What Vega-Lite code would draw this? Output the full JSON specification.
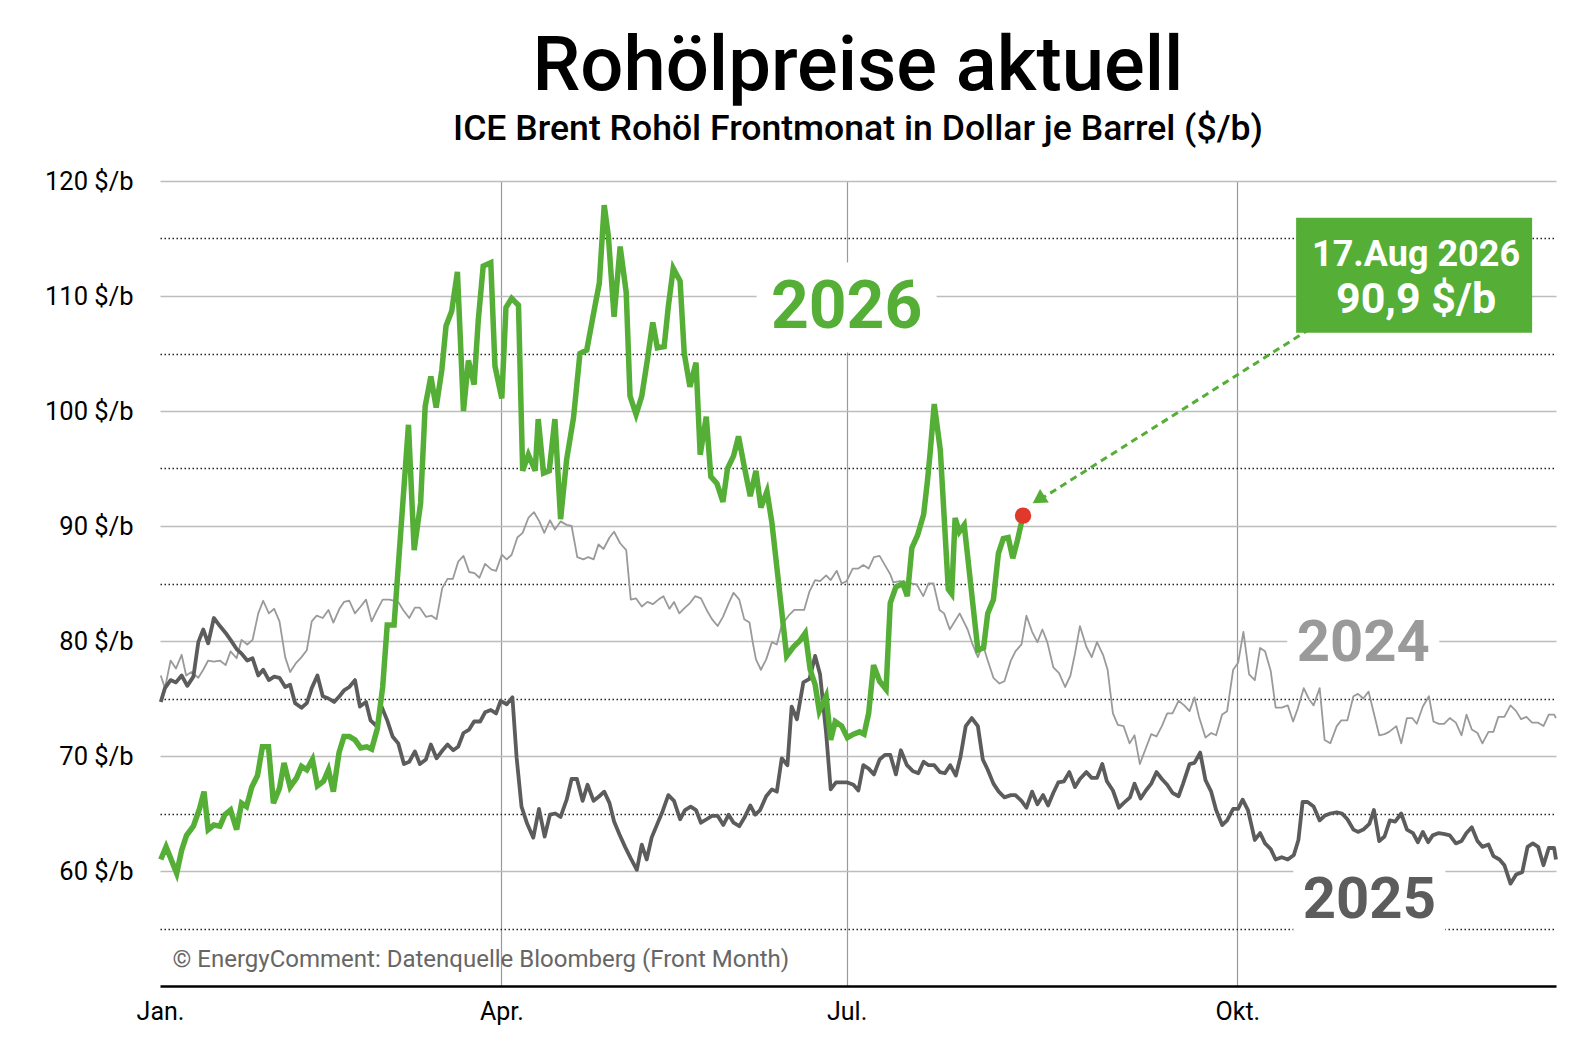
{
  "$schema": "https://vega.github.io/schema/vega-lite/v6.json",
  "width": 1396,
  "height": 805,
  "autosize": {"type": "none"},
  "padding": {"left": 160, "top": 181, "right": 26, "bottom": 70},
  "background": "white",
  "title": {
    "text": "Rohölpreise aktuell",
    "subtitle": "ICE Brent Rohöl Frontmonat in Dollar je Barrel ($/b)",
    "anchor": "middle",
    "frame": "group",
    "font": "Roboto",
    "fontSize": 76,
    "fontWeight": 500,
    "color": "#000",
    "subtitleFont": "Roboto",
    "subtitleFontSize": 35.6,
    "subtitleFontWeight": 500,
    "subtitleColor": "#000",
    "subtitlePadding": 6,
    "offset": 20
  },
  "datasets": {
    "p2024": [
      {"tag":0.2,"preis":77.0},{"tag":1.3,"preis":75.9},{"tag":2.8,"preis":78.3},{"tag":4.2,"preis":77.6},{"tag":5.7,"preis":78.8},{"tag":6.9,"preis":77.0},{"tag":8.3,"preis":77.3},{"tag":10.1,"preis":76.8},{"tag":11.4,"preis":77.5},{"tag":12.7,"preis":78.3},{"tag":14.2,"preis":78.2},{"tag":15.8,"preis":78.3},{"tag":17.3,"preis":77.9},{"tag":18.6,"preis":79.1},{"tag":20.2,"preis":78.5},{"tag":21.5,"preis":80.1},{"tag":23.0,"preis":79.7},{"tag":24.4,"preis":80.1},{"tag":25.9,"preis":82.4},{"tag":27.2,"preis":83.5},{"tag":28.7,"preis":82.4},{"tag":30.1,"preis":82.8},{"tag":31.5,"preis":81.7},{"tag":33.0,"preis":78.6},{"tag":34.3,"preis":77.3},{"tag":35.9,"preis":78.1},{"tag":37.3,"preis":78.6},{"tag":38.7,"preis":79.2},{"tag":40.0,"preis":81.7},{"tag":41.3,"preis":82.2},{"tag":42.9,"preis":82.0},{"tag":44.4,"preis":82.7},{"tag":45.7,"preis":81.6},{"tag":47.3,"preis":82.8},{"tag":48.5,"preis":83.4},{"tag":49.9,"preis":83.5},{"tag":51.4,"preis":82.4},{"tag":52.9,"preis":83.0},{"tag":54.3,"preis":83.6},{"tag":55.8,"preis":81.7},{"tag":57.1,"preis":82.6},{"tag":58.7,"preis":83.6},{"tag":60.5,"preis":83.6},{"tag":62.8,"preis":83.4},{"tag":64.1,"preis":82.7},{"tag":65.7,"preis":82.0},{"tag":67.2,"preis":82.9},{"tag":68.5,"preis":82.9},{"tag":70.1,"preis":82.1},{"tag":71.6,"preis":82.2},{"tag":72.9,"preis":81.9},{"tag":74.4,"preis":84.6},{"tag":75.8,"preis":85.4},{"tag":77.2,"preis":85.4},{"tag":78.6,"preis":86.9},{"tag":80.0,"preis":87.4},{"tag":81.5,"preis":86.0},{"tag":82.9,"preis":85.9},{"tag":84.2,"preis":85.5},{"tag":85.7,"preis":86.7},{"tag":87.4,"preis":86.2},{"tag":88.6,"preis":86.1},{"tag":90.1,"preis":87.5},{"tag":91.4,"preis":87.1},{"tag":92.7,"preis":87.5},{"tag":94.2,"preis":89.0},{"tag":95.6,"preis":89.4},{"tag":97.1,"preis":90.7},{"tag":98.6,"preis":91.2},{"tag":100.0,"preis":90.4},{"tag":101.3,"preis":89.4},{"tag":102.8,"preis":90.5},{"tag":104.1,"preis":89.7},{"tag":105.6,"preis":90.4},{"tag":107.2,"preis":90.1},{"tag":108.5,"preis":90.0},{"tag":110.0,"preis":87.3},{"tag":111.6,"preis":87.1},{"tag":112.9,"preis":87.3},{"tag":114.3,"preis":87.1},{"tag":115.6,"preis":88.4},{"tag":116.9,"preis":88.0},{"tag":118.5,"preis":89.0},{"tag":119.7,"preis":89.5},{"tag":121.3,"preis":88.5},{"tag":122.9,"preis":87.9},{"tag":124.1,"preis":83.6},{"tag":125.5,"preis":83.7},{"tag":127.0,"preis":83.0},{"tag":128.5,"preis":83.4},{"tag":129.9,"preis":83.2},{"tag":131.4,"preis":83.6},{"tag":132.7,"preis":83.9},{"tag":134.3,"preis":82.8},{"tag":135.5,"preis":83.4},{"tag":136.9,"preis":82.4},{"tag":138.4,"preis":82.9},{"tag":139.7,"preis":83.3},{"tag":141.1,"preis":83.9},{"tag":142.6,"preis":83.7},{"tag":144.1,"preis":82.7},{"tag":145.5,"preis":81.9},{"tag":147.0,"preis":81.3},{"tag":148.4,"preis":82.1},{"tag":149.8,"preis":83.2},{"tag":151.2,"preis":84.2},{"tag":152.7,"preis":83.6},{"tag":154.0,"preis":81.9},{"tag":155.4,"preis":81.6},{"tag":156.3,"preis":79.8},{"tag":157.1,"preis":78.4},{"tag":158.4,"preis":77.5},{"tag":159.8,"preis":78.4},{"tag":161.3,"preis":79.9},{"tag":162.6,"preis":79.7},{"tag":163.9,"preis":81.4},{"tag":165.7,"preis":82.2},{"tag":167.2,"preis":82.7},{"tag":168.6,"preis":82.7},{"tag":169.8,"preis":82.7},{"tag":171.2,"preis":84.3},{"tag":172.7,"preis":85.3},{"tag":174.0,"preis":85.2},{"tag":175.6,"preis":85.7},{"tag":176.8,"preis":85.3},{"tag":178.4,"preis":86.1},{"tag":179.7,"preis":85.0},{"tag":181.0,"preis":85.2},{"tag":182.6,"preis":86.3},{"tag":184.1,"preis":86.3},{"tag":185.4,"preis":86.6},{"tag":186.8,"preis":86.3},{"tag":188.2,"preis":87.3},{"tag":189.7,"preis":87.4},{"tag":191.1,"preis":86.6},{"tag":192.5,"preis":85.8},{"tag":193.3,"preis":85.1},{"tag":195.1,"preis":85.2},{"tag":196.9,"preis":85.1},{"tag":199.5,"preis":84.9},{"tag":201.2,"preis":83.9},{"tag":202.6,"preis":85.0},{"tag":203.9,"preis":85.0},{"tag":205.5,"preis":82.7},{"tag":206.7,"preis":82.4},{"tag":208.2,"preis":81.0},{"tag":210.8,"preis":82.4},{"tag":212.9,"preis":81.0},{"tag":214.2,"preis":79.7},{"tag":215.6,"preis":78.6},{"tag":216.9,"preis":79.7},{"tag":218.2,"preis":78.3},{"tag":219.7,"preis":76.8},{"tag":221.3,"preis":76.3},{"tag":222.6,"preis":76.5},{"tag":224.3,"preis":78.3},{"tag":225.5,"preis":79.1},{"tag":227.1,"preis":79.7},{"tag":228.4,"preis":82.2},{"tag":229.9,"preis":80.8},{"tag":231.3,"preis":79.9},{"tag":232.6,"preis":81.0},{"tag":233.9,"preis":79.9},{"tag":235.5,"preis":77.7},{"tag":237.0,"preis":77.2},{"tag":238.6,"preis":76.0},{"tag":240.0,"preis":77.0},{"tag":241.2,"preis":78.9},{"tag":242.5,"preis":81.3},{"tag":244.2,"preis":79.5},{"tag":245.6,"preis":78.6},{"tag":247.0,"preis":79.9},{"tag":248.6,"preis":78.8},{"tag":249.8,"preis":77.5},{"tag":251.2,"preis":73.7},{"tag":252.5,"preis":72.7},{"tag":254.0,"preis":72.6},{"tag":255.6,"preis":71.1},{"tag":256.9,"preis":71.8},{"tag":258.3,"preis":69.3},{"tag":259.9,"preis":70.7},{"tag":261.3,"preis":71.9},{"tag":262.7,"preis":71.7},{"tag":264.1,"preis":72.6},{"tag":265.5,"preis":73.7},{"tag":266.9,"preis":73.7},{"tag":268.5,"preis":74.8},{"tag":270.0,"preis":74.4},{"tag":271.4,"preis":73.9},{"tag":272.7,"preis":75.1},{"tag":273.9,"preis":73.4},{"tag":275.6,"preis":71.6},{"tag":277.1,"preis":72.0},{"tag":278.4,"preis":71.8},{"tag":280.0,"preis":73.6},{"tag":281.3,"preis":73.9},{"tag":282.9,"preis":77.5},{"tag":284.2,"preis":78.1},{"tag":285.6,"preis":80.8},{"tag":287.1,"preis":77.1},{"tag":288.6,"preis":76.6},{"tag":290.0,"preis":79.4},{"tag":291.3,"preis":79.1},{"tag":292.8,"preis":77.4},{"tag":294.1,"preis":74.2},{"tag":295.7,"preis":74.2},{"tag":297.3,"preis":74.4},{"tag":298.7,"preis":73.0},{"tag":299.9,"preis":74.1},{"tag":301.5,"preis":75.9},{"tag":302.8,"preis":75.0},{"tag":304.1,"preis":74.4},{"tag":305.7,"preis":75.9},{"tag":307.0,"preis":71.4},{"tag":308.5,"preis":71.1},{"tag":310.2,"preis":72.6},{"tag":311.4,"preis":73.1},{"tag":313.0,"preis":73.1},{"tag":314.6,"preis":75.2},{"tag":315.8,"preis":75.4},{"tag":317.2,"preis":75.0},{"tag":318.6,"preis":75.6},{"tag":320.0,"preis":73.7},{"tag":321.4,"preis":71.8},{"tag":322.8,"preis":71.9},{"tag":324.0,"preis":72.1},{"tag":325.9,"preis":72.6},{"tag":327.2,"preis":71.1},{"tag":328.7,"preis":73.3},{"tag":330.1,"preis":73.3},{"tag":331.3,"preis":72.8},{"tag":332.9,"preis":74.3},{"tag":334.5,"preis":75.2},{"tag":335.7,"preis":73.0},{"tag":337.1,"preis":72.8},{"tag":338.5,"preis":72.8},{"tag":340.0,"preis":73.3},{"tag":341.6,"preis":72.9},{"tag":343.1,"preis":71.8},{"tag":344.4,"preis":73.6},{"tag":345.8,"preis":72.3},{"tag":347.3,"preis":72.0},{"tag":348.6,"preis":71.1},{"tag":350.2,"preis":72.1},{"tag":351.5,"preis":72.1},{"tag":352.8,"preis":73.4},{"tag":354.4,"preis":73.4},{"tag":356.0,"preis":74.4},{"tag":357.5,"preis":73.9},{"tag":358.8,"preis":73.2},{"tag":360.2,"preis":73.4},{"tag":361.7,"preis":72.9},{"tag":363.3,"preis":72.9},{"tag":364.7,"preis":72.6},{"tag":366.1,"preis":73.6},{"tag":367.5,"preis":73.6},{"tag":368.0,"preis":73.3}
    ],
    "p2025": [
      {"tag":0.2,"preis":74.7},{"tag":1.3,"preis":75.9},{"tag":2.8,"preis":76.6},{"tag":4.2,"preis":76.4},{"tag":5.7,"preis":77.0},{"tag":7.2,"preis":76.1},{"tag":8.8,"preis":76.9},{"tag":10.1,"preis":79.9},{"tag":11.4,"preis":81.0},{"tag":12.7,"preis":79.8},{"tag":14.2,"preis":82.0},{"tag":15.8,"preis":81.3},{"tag":17.3,"preis":80.7},{"tag":18.6,"preis":80.1},{"tag":20.2,"preis":79.3},{"tag":21.5,"preis":78.9},{"tag":23.0,"preis":78.3},{"tag":24.4,"preis":78.5},{"tag":25.9,"preis":77.0},{"tag":27.2,"preis":77.5},{"tag":28.7,"preis":76.6},{"tag":30.1,"preis":76.9},{"tag":31.5,"preis":76.8},{"tag":33.0,"preis":76.0},{"tag":34.3,"preis":76.2},{"tag":35.6,"preis":74.6},{"tag":37.3,"preis":74.2},{"tag":38.7,"preis":74.6},{"tag":40.0,"preis":75.9},{"tag":41.5,"preis":77.0},{"tag":42.9,"preis":75.2},{"tag":44.4,"preis":75.0},{"tag":45.9,"preis":74.7},{"tag":47.3,"preis":75.2},{"tag":48.5,"preis":75.7},{"tag":49.9,"preis":76.0},{"tag":51.4,"preis":76.6},{"tag":52.7,"preis":74.3},{"tag":54.3,"preis":74.7},{"tag":55.5,"preis":73.1},{"tag":57.1,"preis":72.6},{"tag":58.4,"preis":74.3},{"tag":59.9,"preis":73.1},{"tag":61.3,"preis":71.7},{"tag":62.8,"preis":71.1},{"tag":64.3,"preis":69.3},{"tag":65.7,"preis":69.5},{"tag":67.2,"preis":70.4},{"tag":68.5,"preis":69.3},{"tag":70.1,"preis":69.7},{"tag":71.4,"preis":71.0},{"tag":72.9,"preis":69.8},{"tag":74.5,"preis":70.5},{"tag":75.8,"preis":71.0},{"tag":77.3,"preis":70.5},{"tag":78.6,"preis":70.8},{"tag":80.0,"preis":72.0},{"tag":81.5,"preis":72.3},{"tag":82.8,"preis":73.0},{"tag":84.4,"preis":73.0},{"tag":85.7,"preis":73.8},{"tag":87.2,"preis":74.0},{"tag":88.6,"preis":73.7},{"tag":89.8,"preis":74.8},{"tag":91.4,"preis":74.5},{"tag":92.9,"preis":75.1},{"tag":94.0,"preis":69.9},{"tag":95.3,"preis":65.6},{"tag":96.8,"preis":64.1},{"tag":98.4,"preis":62.9},{"tag":99.9,"preis":65.4},{"tag":101.4,"preis":63.0},{"tag":102.8,"preis":64.9},{"tag":104.2,"preis":65.0},{"tag":105.6,"preis":64.7},{"tag":107.2,"preis":66.2},{"tag":108.5,"preis":68.0},{"tag":109.9,"preis":68.0},{"tag":111.4,"preis":66.1},{"tag":112.7,"preis":67.5},{"tag":114.3,"preis":66.1},{"tag":115.8,"preis":66.5},{"tag":117.1,"preis":66.9},{"tag":118.5,"preis":65.9},{"tag":119.7,"preis":64.3},{"tag":121.1,"preis":63.2},{"tag":122.6,"preis":62.1},{"tag":124.1,"preis":61.1},{"tag":125.7,"preis":60.1},{"tag":127.0,"preis":62.3},{"tag":128.3,"preis":61.0},{"tag":129.6,"preis":62.9},{"tag":131.1,"preis":64.1},{"tag":132.5,"preis":65.2},{"tag":134.0,"preis":66.6},{"tag":135.5,"preis":66.1},{"tag":137.1,"preis":64.5},{"tag":138.4,"preis":65.3},{"tag":139.9,"preis":65.6},{"tag":141.3,"preis":65.3},{"tag":142.6,"preis":64.2},{"tag":144.1,"preis":64.5},{"tag":145.5,"preis":64.8},{"tag":147.0,"preis":64.8},{"tag":148.5,"preis":64.0},{"tag":149.9,"preis":64.9},{"tag":151.2,"preis":64.2},{"tag":152.7,"preis":63.9},{"tag":154.0,"preis":64.6},{"tag":155.6,"preis":65.7},{"tag":156.9,"preis":64.9},{"tag":158.2,"preis":65.3},{"tag":159.8,"preis":66.5},{"tag":161.3,"preis":67.1},{"tag":162.6,"preis":66.9},{"tag":163.9,"preis":69.8},{"tag":165.4,"preis":69.2},{"tag":166.5,"preis":74.3},{"tag":167.9,"preis":73.2},{"tag":169.6,"preis":76.4},{"tag":171.2,"preis":76.7},{"tag":172.7,"preis":78.7},{"tag":174.0,"preis":77.1},{"tag":175.6,"preis":72.0},{"tag":176.8,"preis":67.1},{"tag":178.2,"preis":67.7},{"tag":179.7,"preis":67.7},{"tag":181.2,"preis":67.7},{"tag":182.8,"preis":67.5},{"tag":184.1,"preis":67.0},{"tag":185.4,"preis":69.2},{"tag":186.8,"preis":68.9},{"tag":188.2,"preis":68.4},{"tag":189.7,"preis":69.7},{"tag":191.1,"preis":70.1},{"tag":192.5,"preis":70.1},{"tag":194.0,"preis":68.4},{"tag":195.3,"preis":70.5},{"tag":196.9,"preis":69.2},{"tag":198.4,"preis":68.7},{"tag":199.9,"preis":68.5},{"tag":201.3,"preis":69.5},{"tag":202.6,"preis":69.2},{"tag":204.1,"preis":69.2},{"tag":205.6,"preis":68.6},{"tag":206.9,"preis":68.5},{"tag":208.3,"preis":69.2},{"tag":209.8,"preis":68.3},{"tag":211.0,"preis":69.9},{"tag":212.4,"preis":72.6},{"tag":214.0,"preis":73.3},{"tag":215.6,"preis":72.6},{"tag":216.9,"preis":69.7},{"tag":218.2,"preis":68.8},{"tag":219.7,"preis":67.6},{"tag":221.1,"preis":66.9},{"tag":222.6,"preis":66.4},{"tag":224.3,"preis":66.6},{"tag":225.5,"preis":66.6},{"tag":227.1,"preis":66.1},{"tag":228.4,"preis":65.5},{"tag":229.9,"preis":66.9},{"tag":231.3,"preis":65.8},{"tag":232.8,"preis":66.6},{"tag":234.1,"preis":65.7},{"tag":235.5,"preis":66.8},{"tag":236.8,"preis":67.7},{"tag":238.3,"preis":67.8},{"tag":239.7,"preis":68.6},{"tag":241.2,"preis":67.3},{"tag":242.5,"preis":68.0},{"tag":244.2,"preis":68.6},{"tag":245.6,"preis":68.1},{"tag":247.0,"preis":68.1},{"tag":248.4,"preis":69.3},{"tag":249.6,"preis":67.8},{"tag":251.2,"preis":67.0},{"tag":252.8,"preis":65.5},{"tag":254.0,"preis":65.9},{"tag":255.7,"preis":66.4},{"tag":256.9,"preis":67.6},{"tag":258.5,"preis":66.3},{"tag":259.9,"preis":67.0},{"tag":261.3,"preis":67.6},{"tag":262.7,"preis":68.6},{"tag":264.1,"preis":68.0},{"tag":265.5,"preis":67.5},{"tag":266.9,"preis":66.8},{"tag":268.5,"preis":66.5},{"tag":269.7,"preis":67.6},{"tag":271.4,"preis":69.3},{"tag":272.7,"preis":69.4},{"tag":274.2,"preis":70.3},{"tag":275.6,"preis":67.9},{"tag":277.1,"preis":66.9},{"tag":278.4,"preis":65.3},{"tag":280.0,"preis":64.0},{"tag":281.3,"preis":64.4},{"tag":282.9,"preis":65.4},{"tag":284.2,"preis":65.4},{"tag":285.4,"preis":66.2},{"tag":286.8,"preis":65.3},{"tag":288.6,"preis":62.7},{"tag":290.0,"preis":63.3},{"tag":291.3,"preis":62.4},{"tag":292.8,"preis":61.9},{"tag":294.1,"preis":61.0},{"tag":295.7,"preis":61.2},{"tag":297.3,"preis":61.0},{"tag":298.9,"preis":61.4},{"tag":300.1,"preis":62.7},{"tag":301.2,"preis":66.0},{"tag":302.5,"preis":66.0},{"tag":304.1,"preis":65.6},{"tag":305.7,"preis":64.4},{"tag":307.0,"preis":64.8},{"tag":308.5,"preis":65.0},{"tag":310.2,"preis":65.1},{"tag":311.6,"preis":65.0},{"tag":313.0,"preis":64.5},{"tag":314.6,"preis":63.6},{"tag":315.8,"preis":63.4},{"tag":317.2,"preis":63.6},{"tag":318.8,"preis":64.1},{"tag":320.0,"preis":65.3},{"tag":321.4,"preis":62.6},{"tag":322.8,"preis":63.0},{"tag":324.2,"preis":64.4},{"tag":325.6,"preis":64.3},{"tag":327.2,"preis":65.0},{"tag":328.7,"preis":63.6},{"tag":330.3,"preis":63.3},{"tag":331.6,"preis":62.5},{"tag":332.9,"preis":63.4},{"tag":334.3,"preis":62.5},{"tag":335.5,"preis":63.1},{"tag":337.1,"preis":63.3},{"tag":338.7,"preis":63.2},{"tag":340.0,"preis":63.1},{"tag":341.6,"preis":62.4},{"tag":343.1,"preis":62.6},{"tag":344.4,"preis":63.3},{"tag":345.8,"preis":63.8},{"tag":347.3,"preis":62.6},{"tag":348.6,"preis":62.1},{"tag":350.2,"preis":62.3},{"tag":351.5,"preis":61.3},{"tag":353.1,"preis":61.0},{"tag":354.4,"preis":60.5},{"tag":356.0,"preis":58.9},{"tag":357.5,"preis":59.7},{"tag":359.1,"preis":59.9},{"tag":360.5,"preis":62.1},{"tag":361.9,"preis":62.4},{"tag":363.3,"preis":62.1},{"tag":364.7,"preis":60.5},{"tag":366.1,"preis":62.0},{"tag":367.5,"preis":62.0},{"tag":368.0,"preis":61.0}
    ],
    "p2026": [
      {"tag":0.2,"preis":61.0},{"tag":1.6,"preis":62.1},{"tag":4.4,"preis":59.8},{"tag":5.7,"preis":61.8},{"tag":7.0,"preis":63.1},{"tag":8.8,"preis":63.9},{"tag":10.4,"preis":65.4},{"tag":11.6,"preis":66.9},{"tag":12.7,"preis":63.6},{"tag":14.2,"preis":64.0},{"tag":15.8,"preis":63.9},{"tag":17.1,"preis":64.9},{"tag":18.6,"preis":65.3},{"tag":20.2,"preis":63.6},{"tag":21.5,"preis":65.9},{"tag":22.8,"preis":65.6},{"tag":24.2,"preis":67.3},{"tag":25.7,"preis":68.3},{"tag":27.0,"preis":70.8},{"tag":28.6,"preis":70.8},{"tag":29.9,"preis":65.9},{"tag":31.5,"preis":67.2},{"tag":32.7,"preis":69.4},{"tag":34.3,"preis":67.3},{"tag":36.0,"preis":68.1},{"tag":37.3,"preis":69.1},{"tag":38.7,"preis":68.8},{"tag":40.2,"preis":69.7},{"tag":41.5,"preis":67.4},{"tag":43.1,"preis":67.8},{"tag":44.4,"preis":68.8},{"tag":45.7,"preis":66.9},{"tag":47.2,"preis":70.3},{"tag":48.5,"preis":71.7},{"tag":49.9,"preis":71.7},{"tag":51.4,"preis":71.4},{"tag":52.9,"preis":70.7},{"tag":54.5,"preis":70.8},{"tag":55.8,"preis":70.6},{"tag":57.3,"preis":72.4},{"tag":58.7,"preis":76.0},{"tag":59.9,"preis":81.4},{"tag":61.7,"preis":81.4},{"tag":65.5,"preis":98.8},{"tag":67.0,"preis":87.9},{"tag":68.7,"preis":92.0},{"tag":69.9,"preis":100.4},{"tag":71.4,"preis":103.0},{"tag":72.8,"preis":100.3},{"tag":74.3,"preis":103.6},{"tag":75.4,"preis":107.4},{"tag":76.9,"preis":108.7},{"tag":78.4,"preis":112.1},{"tag":80.0,"preis":100.0},{"tag":81.3,"preis":104.4},{"tag":82.8,"preis":102.3},{"tag":83.9,"preis":107.9},{"tag":85.2,"preis":112.6},{"tag":87.2,"preis":112.9},{"tag":88.3,"preis":103.9},{"tag":90.1,"preis":101.1},{"tag":91.2,"preis":109.0},{"tag":92.7,"preis":109.8},{"tag":94.5,"preis":109.2},{"tag":95.6,"preis":94.8},{"tag":97.1,"preis":96.2},{"tag":98.9,"preis":94.8},{"tag":99.7,"preis":99.3},{"tag":101.1,"preis":94.6},{"tag":102.6,"preis":94.8},{"tag":104.1,"preis":99.3},{"tag":105.6,"preis":90.6},{"tag":107.2,"preis":95.8},{"tag":109.0,"preis":99.4},{"tag":110.7,"preis":105.0},{"tag":112.5,"preis":105.3},{"tag":114.3,"preis":108.5},{"tag":115.8,"preis":111.1},{"tag":117.1,"preis":117.9},{"tag":118.2,"preis":115.2},{"tag":119.7,"preis":108.2},{"tag":121.3,"preis":114.3},{"tag":122.9,"preis":110.3},{"tag":123.9,"preis":101.3},{"tag":125.5,"preis":99.7},{"tag":127.0,"preis":101.3},{"tag":128.5,"preis":104.5},{"tag":129.9,"preis":107.7},{"tag":131.1,"preis":105.5},{"tag":132.9,"preis":105.6},{"tag":134.0,"preis":109.1},{"tag":135.3,"preis":112.4},{"tag":137.1,"preis":111.3},{"tag":138.2,"preis":105.0},{"tag":139.7,"preis":102.1},{"tag":141.3,"preis":104.2},{"tag":142.4,"preis":96.2},{"tag":144.0,"preis":99.5},{"tag":145.2,"preis":94.3},{"tag":146.8,"preis":93.7},{"tag":148.4,"preis":92.1},{"tag":149.6,"preis":95.0},{"tag":151.2,"preis":96.1},{"tag":152.5,"preis":97.8},{"tag":154.0,"preis":95.2},{"tag":155.6,"preis":92.6},{"tag":157.1,"preis":94.8},{"tag":158.4,"preis":91.6},{"tag":160.0,"preis":93.0},{"tag":161.3,"preis":90.3},{"tag":165.2,"preis":78.7},{"tag":167.0,"preis":79.5},{"tag":168.6,"preis":80.0},{"tag":170.1,"preis":80.7},{"tag":171.4,"preis":77.5},{"tag":172.7,"preis":76.2},{"tag":173.8,"preis":73.9},{"tag":175.6,"preis":75.2},{"tag":176.8,"preis":71.4},{"tag":178.0,"preis":73.0},{"tag":179.7,"preis":72.6},{"tag":181.2,"preis":71.6},{"tag":182.8,"preis":71.9},{"tag":184.4,"preis":72.1},{"tag":185.6,"preis":71.9},{"tag":186.8,"preis":73.7},{"tag":188.1,"preis":77.9},{"tag":189.7,"preis":76.5},{"tag":191.4,"preis":75.8},{"tag":192.5,"preis":83.3},{"tag":194.0,"preis":84.7},{"tag":195.8,"preis":85.0},{"tag":197.0,"preis":83.9},{"tag":198.2,"preis":88.1},{"tag":199.7,"preis":89.2},{"tag":201.3,"preis":91.0},{"tag":202.3,"preis":93.9},{"tag":203.0,"preis":96.3},{"tag":204.1,"preis":100.6},{"tag":205.7,"preis":96.6},{"tag":206.5,"preis":92.0},{"tag":207.8,"preis":84.5},{"tag":208.7,"preis":84.1},{"tag":209.6,"preis":90.7},{"tag":210.7,"preis":89.5},{"tag":212.0,"preis":90.1},{"tag":215.6,"preis":79.2},{"tag":217.1,"preis":79.4},{"tag":218.2,"preis":82.4},{"tag":219.7,"preis":83.6},{"tag":221.0,"preis":87.6},{"tag":222.3,"preis":88.9},{"tag":223.6,"preis":89.0},{"tag":224.8,"preis":87.2},{"tag":226.0,"preis":88.7},{"tag":227.5,"preis":90.9}
    ]
  },
  "encoding": {
    "x": {
      "field": "tag",
      "type": "quantitative",
      "scale": {"domain": [0, 368], "nice": false, "zero": false},
      "axis": {
        "title": null,
        "values": [0, 90, 181, 284],
        "labelExpr": "datum.value == 0 ? 'Jan.' : datum.value == 90 ? 'Apr.' : datum.value == 181 ? 'Jul.' : 'Okt.'",
        "grid": true,
        "gridColor": {"condition": {"test": "datum.value == 0", "value": "transparent"}, "value": "#9a9a9a"},
        "gridWidth": 1.2,
        "ticks": false,
        "domain": true,
        "domainColor": "#000",
        "domainWidth": 2.5,
        "labelFont": "Roboto",
        "labelFontSize": 25,
        "labelColor": "#000",
        "labelPadding": 13,
        "labelFlush": false,
        "labelOverlap": false
      }
    },
    "y": {
      "field": "preis",
      "type": "quantitative",
      "scale": {"domain": [50, 120], "nice": false, "zero": false},
      "axis": {
        "title": null,
        "values": [55, 60, 65, 70, 75, 80, 85, 90, 95, 100, 105, 110, 115, 120],
        "labelExpr": "datum.value % 10 == 0 ? datum.value + ' $/b' : ''",
        "grid": true,
        "gridColor": {"condition": {"test": "datum.value % 10 != 0", "value": "#222"}, "value": "#bdbdbd"},
        "gridDash": {"condition": {"test": "datum.value % 10 != 0", "value": [1.5, 2.5]}, "value": []},
        "gridWidth": 1.3,
        "ticks": false,
        "domain": false,
        "labelFont": "Roboto",
        "labelFontSize": 25.5,
        "labelColor": "#000",
        "labelPadding": 27,
        "labelOverlap": false
      }
    }
  },
  "layer": [
    {
      "data": {"values": [{"tag": 181, "preis": 109.0}]},
      "mark": {"type": "point", "shape": "M-1,-0.5H1V0.5H-1Z", "filled": true, "fill": "white", "opacity": 1, "strokeWidth": 0, "size": 32400}
    },
    {
      "data": {"values": [{"tag": 317.2, "preis": 79.7}, {"tag": 318.8, "preis": 57.4}]},
      "mark": {"type": "point", "shape": "M-1,-0.5H1V0.5H-1Z", "filled": true, "fill": "white", "opacity": 1, "strokeWidth": 0, "size": 23104}
    },
    {
      "data": {"name": "p2024"},
      "mark": {"type": "line", "color": "#9a9a9a", "strokeWidth": 1.8, "strokeJoin": "round"}
    },
    {
      "data": {"name": "p2025"},
      "mark": {"type": "line", "color": "#5c5c5c", "strokeWidth": 3.8, "strokeJoin": "round"}
    },
    {
      "data": {"name": "p2026"},
      "mark": {"type": "line", "color": "#55ae35", "strokeWidth": 5.5, "strokeJoin": "miter"}
    },
    {
      "data": {"values": [{"tag": 181, "preis": 109.0, "label": "2026"}]},
      "mark": {"type": "text", "font": "Roboto", "fontSize": 66, "fontWeight": "bold", "color": "#55ae35", "align": "center", "baseline": "middle"},
      "encoding": {"text": {"field": "label"}}
    },
    {
      "data": {"values": [{"tag": 317.2, "preis": 79.7, "label": "2024", "jahr": "2024"}, {"tag": 318.8, "preis": 57.4, "label": "2025", "jahr": "2025"}]},
      "mark": {"type": "text", "font": "Roboto", "fontSize": 58, "fontWeight": "bold", "align": "center", "baseline": "middle"},
      "encoding": {
        "text": {"field": "label"},
        "color": {"field": "jahr", "type": "nominal", "scale": {"domain": ["2024", "2025"], "range": ["#9a9a9a", "#5c5c5c"]}, "legend": null}
      }
    },
    {
      "data": {"values": [{"tag": 302.5, "preis": 107.0}, {"tag": 232.0, "preis": 92.3}]},
      "mark": {"type": "line", "color": "#55ae35", "strokeWidth": 3, "strokeDash": [7, 5]}
    },
    {
      "data": {"values": [{"tag": 231.6, "preis": 92.3}]},
      "mark": {"type": "point", "shape": "triangle-up", "filled": true, "color": "#55ae35", "opacity": 1, "size": 260, "angle": 237}
    },
    {
      "data": {"name": "p2026"},
      "transform": [{"filter": "datum.tag >= 227.5"}],
      "mark": {"type": "point", "filled": true, "color": "#e0392b", "opacity": 1, "size": 270}
    },
    {
      "data": {"values": [{"tag": 330.6, "preis": 111.8}]},
      "mark": {"type": "point", "shape": "M-1,-0.487H1V0.487H-1Z", "filled": true, "color": "#55ae35", "opacity": 1, "strokeWidth": 0, "size": 55696}
    },
    {
      "data": {"values": [{"tag": 331.1, "preis": 112.6, "label": "17.Aug 2026"}]},
      "mark": {"type": "text", "font": "Roboto", "fontSize": 36, "fontWeight": "bold", "color": "white", "align": "center", "baseline": "alphabetic"},
      "encoding": {"text": {"field": "label"}}
    },
    {
      "data": {"values": [{"tag": 331.1, "preis": 108.5, "label": "90,9 $/b"}]},
      "mark": {"type": "text", "font": "Roboto", "fontSize": 43, "fontWeight": "bold", "color": "white", "align": "center", "baseline": "alphabetic"},
      "encoding": {"text": {"field": "label"}}
    },
    {
      "data": {"values": [{"tag": 3.3, "preis": 51.65, "label": "© EnergyComment: Datenquelle Bloomberg (Front Month)"}]},
      "mark": {"type": "text", "font": "Roboto", "fontSize": 24, "color": "#666", "align": "left", "baseline": "alphabetic"},
      "encoding": {"text": {"field": "label"}}
    }
  ],
  "config": {
    "view": {"stroke": null},
    "font": "Roboto"
  }
}
